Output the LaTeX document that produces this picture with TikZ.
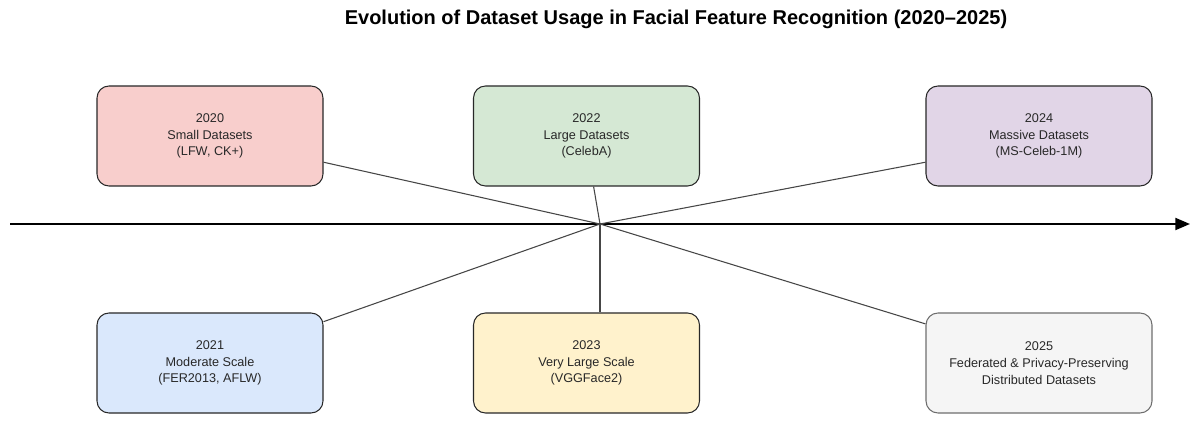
\documentclass[tikz,border=0pt]{standalone}
\usepackage{fontspec}
\setmainfont{Liberation Sans}
\usetikzlibrary{arrows.meta}

\definecolor{redfill}{RGB}{248,206,204}
\definecolor{bluefill}{RGB}{218,232,252}
\definecolor{greenfill}{RGB}{213,232,212}
\definecolor{yellowfill}{RGB}{255,242,204}
\definecolor{purplefill}{RGB}{225,213,231}
\definecolor{greyfill}{RGB}{245,245,245}
\definecolor{boxline}{RGB}{40,40,40}
\definecolor{greyline}{RGB}{110,110,110}
\definecolor{txtgrey}{RGB}{40,40,40}
\definecolor{linkgrey}{RGB}{70,70,70}

\tikzset{
  yearbox/.style={draw=boxline, line width=0.8pt, rounded corners=9pt,
    minimum width=169.5pt, minimum height=75pt, align=center,
    text=txtgrey, font=\fontsize{9.5}{12.5}\selectfont},
  link/.style={draw=linkgrey, line width=0.8pt}
}

\begin{document}
\begin{tikzpicture}[x=0.75pt, y=-0.75pt]
  \useasboundingbox (0,0) rectangle (1197,424);

  % title
  \node[font=\bfseries\fontsize{15}{17}\selectfont] (title) at (676,19)
    {Evolution of Dataset Usage in Facial Feature Recognition (2020--2025)};

  % time axis
  \coordinate (axstart) at (10,224);
  \coordinate (axend) at (1190,224);
  \coordinate (hub) at (600,224);
  \draw[line width=1.5pt, -{Triangle[length=11pt, width=9pt]}] (axstart) -- (axend);

  % upper row
  \node[yearbox, fill=redfill] (y2020) at (210,136) {2020\\Small Datasets\\(LFW, CK+)};
  \node[yearbox, fill=greenfill] (y2022) at (586.5,136) {2022\\Large Datasets\\(CelebA)};
  \node[yearbox, fill=purplefill] (y2024) at (1039,136) {2024\\Massive Datasets\\(MS-Celeb-1M)};

  % lower row
  \node[yearbox, fill=bluefill] (y2021) at (210,363) {2021\\Moderate Scale\\(FER2013, AFLW)};
  \node[yearbox, fill=yellowfill] (y2023) at (586.5,363) {2023\\Very Large Scale\\(VGGFace2)};
  \node[yearbox, fill=greyfill, draw=greyline] (y2025) at (1039,363)
    {2025\\Federated \& Privacy-Preserving\\Distributed Datasets};

  % links to the hub
  \draw[link] (y2020.-13) -- (hub);
  \draw[link] (y2022.-82) -- (hub);
  \draw[link] (y2024.-167.5) -- (hub);
  \draw[link] (y2021.20) -- (hub);
  \draw[link] (hub |- y2023.north) -- (hub);
  \draw[link] (y2025.161.6) -- (hub);

\end{tikzpicture}
\end{document}
